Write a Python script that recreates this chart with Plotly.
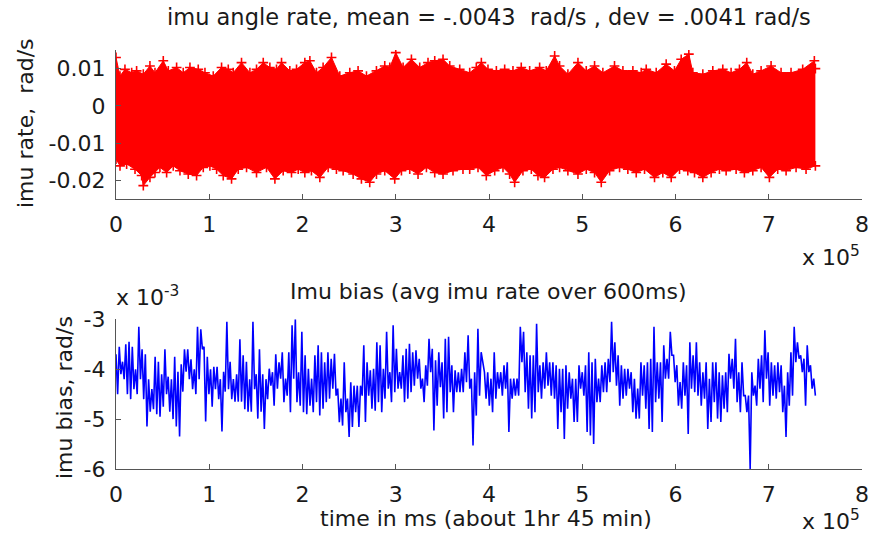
import plotly.graph_objects as go

# ---------------- data ----------------
# top panel: envelope of the raw imu rate band (x in units of 1e5 ms, rad/s)
rate_upper_x = [0.000, 0.043, 0.096, 0.168, 0.221, 0.293, 0.364, 0.418, 0.507, 0.561, 0.650, 0.721, 0.793, 0.882,
                0.954, 1.043, 1.132, 1.204, 1.257, 1.346, 1.436, 1.507, 1.579, 1.650, 1.721, 1.775, 1.864, 1.936,
                2.025, 2.079, 2.150, 2.221, 2.311, 2.400, 2.507, 2.596, 2.686, 2.793, 2.882, 2.936, 3.000, 3.079,
                3.168, 3.257, 3.346, 3.418, 3.507, 3.579, 3.686, 3.793, 3.864, 3.918, 3.989, 4.079, 4.168, 4.257,
                4.346, 4.436, 4.543, 4.614, 4.704, 4.757, 4.846, 4.954, 5.043, 5.132, 5.221, 5.346, 5.436, 5.543,
                5.632, 5.686, 5.793, 5.900, 5.989, 6.061, 6.143, 6.186, 6.293, 6.400, 6.507, 6.596, 6.686, 6.764,
                6.829, 6.918, 7.025, 7.132, 7.239, 7.364, 7.489, 7.500]
rate_upper = [0.0130, 0.0080, 0.0098, 0.0089, 0.0094, 0.0085, 0.0107, 0.0089, 0.0121, 0.0094, 0.0103, 0.0089,
              0.0103, 0.0098, 0.0089, 0.0080, 0.0103, 0.0098, 0.0089, 0.0116, 0.0089, 0.0098, 0.0116, 0.0103,
              0.0098, 0.0116, 0.0094, 0.0098, 0.0116, 0.0121, 0.0089, 0.0103, 0.0130, 0.0080, 0.0089, 0.0094,
              0.0080, 0.0094, 0.0107, 0.0103, 0.0143, 0.0103, 0.0125, 0.0103, 0.0116, 0.0121, 0.0125, 0.0107,
              0.0098, 0.0089, 0.0103, 0.0116, 0.0098, 0.0094, 0.0098, 0.0094, 0.0103, 0.0094, 0.0103, 0.0094,
              0.0134, 0.0107, 0.0085, 0.0116, 0.0094, 0.0107, 0.0089, 0.0107, 0.0094, 0.0094, 0.0089, 0.0098,
              0.0089, 0.0112, 0.0094, 0.0125, 0.0139, 0.0089, 0.0085, 0.0094, 0.0098, 0.0089, 0.0098, 0.0116,
              0.0085, 0.0094, 0.0107, 0.0089, 0.0089, 0.0098, 0.0121, 0.0100]
rate_lower_x = [0.000, 0.043, 0.114, 0.204, 0.275, 0.293, 0.364, 0.418, 0.471, 0.543, 0.614, 0.686, 0.775, 0.864,
                0.936, 1.007, 1.079, 1.150, 1.239, 1.311, 1.400, 1.507, 1.614, 1.704, 1.793, 1.882, 1.954, 2.025,
                2.096, 2.186, 2.275, 2.364, 2.436, 2.543, 2.632, 2.721, 2.793, 2.882, 2.989, 3.061, 3.150, 3.239,
                3.329, 3.418, 3.507, 3.614, 3.721, 3.793, 3.882, 3.971, 4.061, 4.150, 4.221, 4.275, 4.364, 4.454,
                4.525, 4.596, 4.686, 4.757, 4.846, 4.954, 5.043, 5.132, 5.204, 5.293, 5.400, 5.489, 5.579, 5.668,
                5.775, 5.864, 5.954, 6.043, 6.132, 6.204, 6.293, 6.382, 6.471, 6.543, 6.650, 6.739, 6.829, 6.918,
                7.007, 7.096, 7.186, 7.293, 7.400, 7.500]
rate_lower = [-0.0143, -0.0161, -0.0156, -0.0170, -0.0187, -0.0214, -0.0192, -0.0179, -0.0165, -0.0179, -0.0161,
              -0.0174, -0.0183, -0.0187, -0.0165, -0.0161, -0.0170, -0.0187, -0.0196, -0.0170, -0.0165, -0.0179,
              -0.0165, -0.0196, -0.0174, -0.0179, -0.0170, -0.0179, -0.0174, -0.0192, -0.0165, -0.0170, -0.0174,
              -0.0183, -0.0196, -0.0205, -0.0183, -0.0174, -0.0196, -0.0174, -0.0170, -0.0183, -0.0165, -0.0179,
              -0.0183, -0.0174, -0.0170, -0.0170, -0.0165, -0.0187, -0.0174, -0.0165, -0.0183, -0.0205, -0.0174,
              -0.0170, -0.0187, -0.0192, -0.0170, -0.0165, -0.0174, -0.0183, -0.0170, -0.0179, -0.0205, -0.0174,
              -0.0165, -0.0170, -0.0179, -0.0170, -0.0192, -0.0179, -0.0192, -0.0170, -0.0174, -0.0179, -0.0192,
              -0.0179, -0.0170, -0.0174, -0.0170, -0.0179, -0.0174, -0.0165, -0.0192, -0.0170, -0.0174, -0.0165,
              -0.0170, -0.0161]

# bottom panel: imu bias (units of 1e-3 rad/s), samples evenly spread over 0 .. 7.5e5 ms
bias_e3 = [
    -3.7, -4.5, -3.55, -4.1, -3.85, -4.2, -3.5, -4.5, -3.45, -4.6, -3.55, -4.4, -4.0, -4.5, -3.15, -4.2,
    -3.6, -4.6, -3.7, -5.15, -4.2, -4.85, -4.4, -4.8, -3.75, -4.9, -3.85, -4.95, -4.1, -4.75, -3.6, -4.5,
    -4.15, -4.85, -4.2, -5.0, -3.75, -5.15, -4.05, -5.35, -3.9, -4.45, -3.6, -4.05, -3.6, -4.2, -3.8, -4.4,
    -4.0, -4.5, -3.15, -4.2, -3.2, -3.6, -3.55, -5.05, -3.75, -4.5, -4.0, -4.75, -3.95, -4.4, -3.95, -4.6,
    -4.2, -5.25, -4.05, -4.45, -3.05, -4.4, -3.85, -4.6, -4.2, -4.65, -4.1, -4.65, -3.4, -4.65, -3.72, -4.8,
    -3.85, -4.85, -4.2, -4.85, -3.05, -4.4, -4.1, -4.99, -3.6, -4.85, -4.1, -5.2, -4.2, -4.6, -3.99, -4.33,
    -4.06, -4.73, -3.7, -4.39, -3.86, -4.19, -3.66, -4.66, -4.19, -4.53,
    -3.66, -4.86, -3.12, -4.19, -3.0, -4.66, -4.06, -4.73, -3.25, -4.86, -3.72, -4.9, -3.99, -4.73,
    -4.19, -4.86, -3.72, -4.66, -3.52, -4.93, -3.66, -4.79, -3.86, -4.66, -3.66, -4.59, -3.79, -4.39,
    -3.69, -4.53, -4.39, -5.06, -4.59, -5.13, -3.86, -4.86, -4.59, -5.36, -4.26, -5.16, -4.33, -4.86,
    -4.33, -5.16, -4.33, -4.53, -3.52, -5.06, -3.86, -4.53, -4.02, -4.79, -3.99, -4.83, -3.46, -4.66,
    -3.52, -4.86, -3.99, -4.59, -3.25, -4.39, -4.06, -4.66, -3.12, -4.46, -3.59, -4.39, -4.06, -4.39,
    -3.72, -4.66, -3.59, -4.59, -3.49, -4.46, -3.66, -4.33, -3.62, -4.19, -3.79, -4.39, -4.19, -4.66,
    -3.92, -4.33, -3.39, -4.06, -3.59, -5.23, -3.82, -4.73, -3.66, -4.36, -3.86, -4.99, -3.39, -4.86,
    -3.35, -4.46, -3.92, -4.86, -4.02, -4.46, -4.06, -4.46,
    -3.99, -4.46, -3.66, -4.26, -3.32, -4.39, -4.19, -5.53, -4.06, -4.93, -3.19, -4.53, -3.66, -3.92,
    -4.06, -4.59, -4.06, -4.73, -4.19, -4.86, -3.66, -4.59, -4.06, -4.39, -4.06, -4.53, -3.92, -4.39,
    -3.86, -5.26, -4.19, -4.59, -4.19, -4.53, -4.19, -4.53, -3.15, -3.86, -3.25, -4.46, -3.66, -4.79,
    -3.72, -4.99, -3.72, -4.86, -3.09, -4.46, -3.92, -4.59, -3.86, -4.39, -3.66, -4.33, -3.86, -4.53,
    -3.86, -4.59, -3.92, -5.2, -3.99, -4.86, -3.99, -5.4, -3.92, -4.79, -4.06, -4.59, -4.19, -5.06,
    -4.19, -5.06, -3.92, -4.39, -4.06, -4.53, -3.92, -5.26, -3.66, -5.33, -3.86, -5.5, -3.79, -4.66,
    -4.19, -4.66, -3.92, -4.46, -3.86, -4.46, -3.79, -4.26, -3.05, -4.06, -3.46, -4.33, -3.72, -4.73,
    -3.92, -4.59, -3.99, -4.53, -3.99, -4.39, -4.06, -4.86, -4.19, -4.99, -4.39, -4.99, -3.86, -4.53,
    -3.92, -4.79, -3.86, -5.2, -3.79, -5.26, -3.15, -4.66, -3.86, -4.59, -3.86, -5.06, -3.52, -4.19,
    -3.79, -4.19, -3.25, -3.72, -3.72, -4.26, -3.92, -4.73, -4.26, -4.79, -3.86, -4.53, -3.92, -5.3,
    -3.46, -4.39, -3.72, -4.46, -3.46, -4.53, -3.86, -4.73, -4.06, -4.59, -3.86, -5.2, -4.19, -5.06,
    -3.86, -4.66, -3.86, -4.99, -4.06, -5.06, -4.12, -4.79, -4.06, -4.86, -3.69, -4.19, -3.79, -4.39,
    -3.39, -4.66, -4.06, -4.86, -3.86, -4.53, -4.53, -4.86, -4.53, -6.0, -4.06, -4.53, -4.33, -4.73,
    -3.79, -4.39, -3.72, -4.66, -3.22, -4.19, -3.66, -4.73, -3.86, -4.53, -3.92, -4.59, -3.86, -4.46,
    -3.92, -4.86, -4.33, -5.36, -4.06, -4.73, -3.66, -4.53, -3.15, -3.86, -3.46, -3.79, -3.72, -4.06,
    -3.79, -4.73, -3.52, -4.06, -3.92, -4.39, -4.19, -4.53]
bias_end_ms = 750000

x_tick_vals = [0, 1, 2, 3, 4, 5, 6, 7, 8]          # units of 1e5 ms
x_tick_text = ['0', '1', '2', '3', '4', '5', '6', '7', '8']
rate_tick_vals = [-0.02, -0.01, 0, 0.01]
rate_tick_text = ['-0.02', '-0.01', '0', '0.01']
bias_tick_vals = [-6, -5, -4, -3]
bias_tick_text = ['-6', '-5', '-4', '-3']

# ---------------- figure ----------------
FONT = "DejaVu Sans"
TXT = "#1a1a1a"
AX = "#555555"
FS = 22

n = len(bias_e3)
bias_x = [i * bias_end_ms / (n - 1) / 1e5 for i in range(n)]

fig = go.Figure()
fig.add_trace(go.Scatter(x=rate_lower_x, y=rate_lower, mode="lines+markers",
                         line=dict(color="#ff0000", width=1),
                         marker=dict(symbol="cross-thin", size=7, line=dict(color="#ff0000", width=1.6)),
                         xaxis="x", yaxis="y", showlegend=False))
fig.add_trace(go.Scatter(x=rate_upper_x, y=rate_upper, mode="lines+markers", fill="tonexty",
                         fillcolor="#ff0000",
                         line=dict(color="#ff0000", width=1),
                         marker=dict(symbol="cross-thin", size=7, line=dict(color="#ff0000", width=1.6)),
                         xaxis="x", yaxis="y", showlegend=False))
fig.add_trace(go.Scatter(x=bias_x, y=bias_e3, mode="lines",
                         line=dict(color="#0000ff", width=1.6),
                         xaxis="x2", yaxis="y2", showlegend=False))

axis_common = dict(showline=True, linecolor=AX, linewidth=1.3, ticks="inside", ticklen=5,
                   tickcolor=AX, tickwidth=1.3, showgrid=False, zeroline=False, mirror=False,
                   automargin=False, tickfont=dict(family=FONT, size=FS, color=TXT))

fig.update_layout(
    width=870, height=539,
    margin=dict(l=116, r=8, t=50, b=70),
    paper_bgcolor="white", plot_bgcolor="white",
    xaxis=dict(domain=[0, 1], range=[0, 8], tickvals=x_tick_vals, ticktext=x_tick_text,
               anchor="y", ticklabelstandoff=5, **axis_common),
    yaxis=dict(domain=[0.6444, 1], range=[-0.025, 0.015], tickvals=rate_tick_vals,
               ticktext=rate_tick_text, anchor="x", ticklabelstandoff=5, **axis_common),
    xaxis2=dict(domain=[0, 1], range=[0, 8], tickvals=x_tick_vals, ticktext=x_tick_text,
                anchor="y2", ticklabelstandoff=5, **axis_common),
    yaxis2=dict(domain=[0, 0.3573], range=[-6, -3], tickvals=bias_tick_vals,
                ticktext=bias_tick_text, anchor="x2", ticklabelstandoff=5, **axis_common),
)

def note(text, x, y, size=FS, xanchor="center", yanchor="middle", angle=0):
    fig.add_annotation(text=text, x=x, y=y, xref="paper", yref="paper", showarrow=False,
                       xanchor=xanchor, yanchor=yanchor, textangle=angle,
                       font=dict(family=FONT, size=size, color=TXT))

def px(xp, yp):
    # convert pixel position to paper coords (plot area 116..862, 50..469)
    return (xp - 116) / 746, (469 - yp) / 419

x, y = px(489, 17); note("imu angle rate, mean = -.0043  rad/s , dev = .0041 rad/s", x, y, size=22.5)
x, y = px(488, 291); note("Imu bias (avg imu rate over 600ms)", x, y)
x, y = px(486, 518); note("time in ms (about 1hr 45 min)", x, y)
x, y = px(26, 123); note("imu rate,  rad/s", x, y, angle=-90)
x, y = px(64, 397); note("imu bias, rad/s", x, y, angle=-90)
x, y = px(862, 272); note("x 10<sup>5</sup>", x, y, xanchor="right", yanchor="bottom")
x, y = px(862, 536); note("x 10<sup>5</sup>", x, y, xanchor="right", yanchor="bottom")
x, y = px(114, 312); note("x 10<sup>-3</sup>", x, y, xanchor="left", yanchor="bottom")

fig.write_html("out.html", config={"displayModeBar": False},
               post_script="document.body.style.margin='0';document.body.style.overflow='hidden';")
